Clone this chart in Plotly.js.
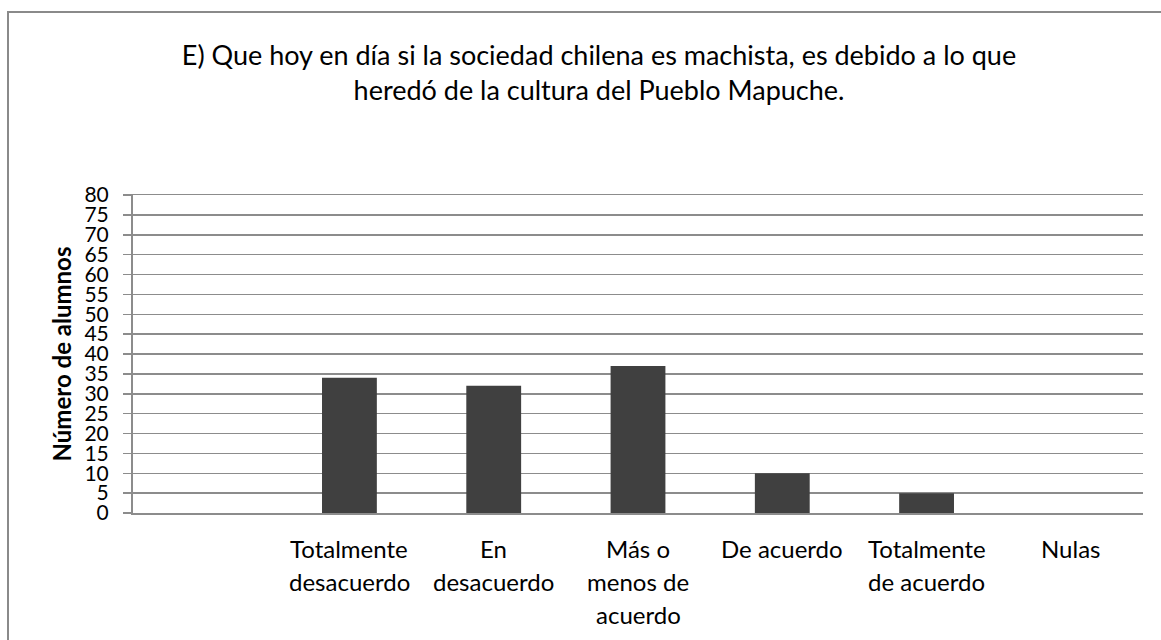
<!DOCTYPE html>
<html>
<head>
<meta charset="utf-8">
<script src="https://cdn.plot.ly/plotly-3.0.1.min.js"></script>
<style>
  html, body { margin: 0; padding: 0; background: #fff; }
  #chart { width: 1161px; height: 640px; }
</style>
</head>
<body>
<div id="chart"></div>
<script>
const chartTitle = "E) Que hoy en día si la sociedad chilena es machista, es debido a lo que<br>heredó de la cultura del Pueblo Mapuche.";
const yTitle = "Número de alumnos";
const categories = ["", "Totalmente<br>desacuerdo", "En<br>desacuerdo", "Más o<br>menos de<br>acuerdo", "De acuerdo", "Totalmente<br>de acuerdo", "Nulas"];
const values = [null, 34, 32, 37, 10, 5, 0];
const yTicks = [0, 5, 10, 15, 20, 25, 30, 35, 40, 45, 50, 55, 60, 65, 70, 75, 80];

const FONT = "Lato, 'Open Sans', sans-serif";
const W = 1161, H = 640;
const M = { l: 133, r: 18, t: 195, b: 127 };
const pw = W - M.l - M.r, ph = H - M.t - M.b;
const px2x = p => (p - M.l) / pw;
const py2y = p => (H - M.b - p) / ph;

const xIdx = categories.map((c, i) => i);

const annotations = [];
categories.forEach((c, i) => {
  if (!c) return;
  c.split("<br>").forEach((line, j) => {
    annotations.push({
      x: i, xref: "x", y: 0, yref: "paper",
      yanchor: "middle", xanchor: "center",
      yshift: -(35 + 33 * j),
      text: line, showarrow: false,
      font: { family: FONT, size: 24, color: "#000" }
    });
  });
});

const trace = {
  type: "bar",
  x: xIdx,
  y: values,
  marker: { color: "#404040", line: { width: 0 } },
  width: 0.38,
  hoverinfo: "skip"
};

const layout = {
  width: W, height: H,
  margin: M,
  paper_bgcolor: "#fff",
  plot_bgcolor: "#fff",
  showlegend: false,
  title: {
    text: chartTitle,
    font: { family: FONT, size: 27, color: "#000" },
    x: 599 / W, xref: "container", xanchor: "center",
    y: 1 - 65 / H, yref: "container", yanchor: "top"
  },
  xaxis: {
    range: [-0.5, categories.length - 0.5],
    showticklabels: false,
    showgrid: false,
    zeroline: false,
    showline: true,
    mirror: true,
    linecolor: "#8c8c8c",
    linewidth: 1.5,
    ticks: "",
    fixedrange: true
  },
  yaxis: {
    range: [0, 80],
    tickvals: yTicks,
    ticktext: yTicks.map(String),
    showgrid: true,
    gridcolor: "#8c8c8c",
    gridwidth: 1.5,
    zeroline: false,
    showline: true,
    linecolor: "#8c8c8c",
    linewidth: 2,
    ticks: "outside",
    ticklen: 8,
    tickwidth: 1.5,
    tickcolor: "#8c8c8c",
    ticklabelstandoff: 10,
    tickfont: { family: FONT, size: 21, color: "#000" },
    title: {
      text: yTitle,
      font: { family: FONT, size: 24, color: "#000", weight: "bold" },
      standoff: 6
    },
    automargin: false,
    fixedrange: true
  },
  annotations: annotations,
  shapes: [
    {
      type: "rect", xref: "paper", yref: "paper",
      x0: px2x(8), x1: px2x(W + 10), y0: py2y(H + 10), y1: py2y(12),
      line: { color: "#8a8a8a", width: 2 }, fillcolor: "rgba(0,0,0,0)", layer: "below"
    }
  ]
};

Plotly.newPlot("chart", [trace], layout, { displayModeBar: false, staticPlot: true });
</script>
</body>
</html>
